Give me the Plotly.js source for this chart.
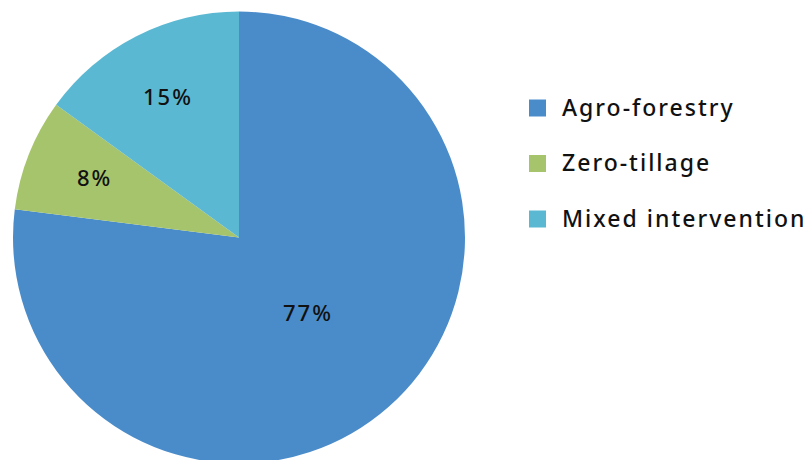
<!DOCTYPE html>
<html>
<head>
<meta charset="utf-8">
<script src="https://cdn.plot.ly/plotly-3.0.1.min.js"></script>
<style>
html, body { margin:0; padding:0; background:#fff; }
#wrap { width:810px; height:460px; overflow:hidden; position:relative; }
#chart { width:810px; height:475px; }
text.annotation-text { letter-spacing: 2px; }
</style>
</head>
<body>
<div id="wrap"><div id="chart"></div></div>
<script>
const labels = ["Agro-forestry", "Zero-tillage", "Mixed intervention"];
const values = [77, 8, 15];
const colors = ["#4A8CCA", "#A6C46C", "#5BB8D2"];

const W = 810, H = 475;
const fontFam = "'Noto Sans', 'DejaVu Sans', sans-serif";

// pie geometry (pixels from top-left of the plot)
const cx = 239, cy = 237.5, R = 226;

const trace = {
  type: "pie",
  labels: labels,
  values: values,
  sort: false,
  direction: "clockwise",
  rotation: 0,
  marker: { colors: colors, line: { width: 0 } },
  textinfo: "none",
  hoverinfo: "label+percent",
  showlegend: false,
  domain: { x: [(cx - R) / W, (cx + R) / W], y: [(H - cy - R) / H, (H - cy + R) / H] }
};

const shapes = [];
const annotations = [];

// percentage labels placed at each slice's mid-angle
const total = values.reduce((a, b) => a + b, 0);
let cum = 0;
values.forEach((v, i) => {
  const share = v / total;
  const mid = (cum + share / 2) * 2 * Math.PI; // clockwise from 12 o'clock
  cum += share;
  const frac = share > 0.5 ? 0.46 : 0.69;
  const px = cx + Math.sin(mid) * R * frac;
  const py = cy - Math.cos(mid) * R * frac - 3;
  annotations.push({
    xref: "paper", yref: "paper", x: px / W, y: 1 - py / H,
    xanchor: "center", yanchor: "middle", showarrow: false,
    text: Math.round(share * 100) + "%",
    font: { family: fontFam, size: 22, weight: 500, color: "#111111" }
  });
});

// custom legend (larger squares, wide spacing as in reference)
const legTop = 108, legStep = 55.5, sq = 17;
labels.forEach((lab, i) => {
  const ly = legTop + i * legStep;
  shapes.push({
    type: "rect", xref: "paper", yref: "paper",
    x0: 529 / W, x1: (529 + sq) / W,
    y0: 1 - (ly + sq / 2) / H, y1: 1 - (ly - sq / 2) / H,
    fillcolor: colors[i], line: { width: 0 }
  });
  annotations.push({
    xref: "paper", yref: "paper", x: 560 / W, y: 1 - (ly - 1) / H,
    xanchor: "left", yanchor: "middle", showarrow: false,
    text: lab, font: { family: fontFam, size: 23, weight: 500, color: "#111111" }
  });
});

const layout = {
  width: W, height: H,
  margin: { l: 0, r: 0, t: 0, b: 0 },
  paper_bgcolor: "#ffffff",
  showlegend: false,
  shapes: shapes,
  annotations: annotations
};

Plotly.newPlot("chart", [trace], layout, { displayModeBar: false, staticPlot: true });
</script>
</body>
</html>
